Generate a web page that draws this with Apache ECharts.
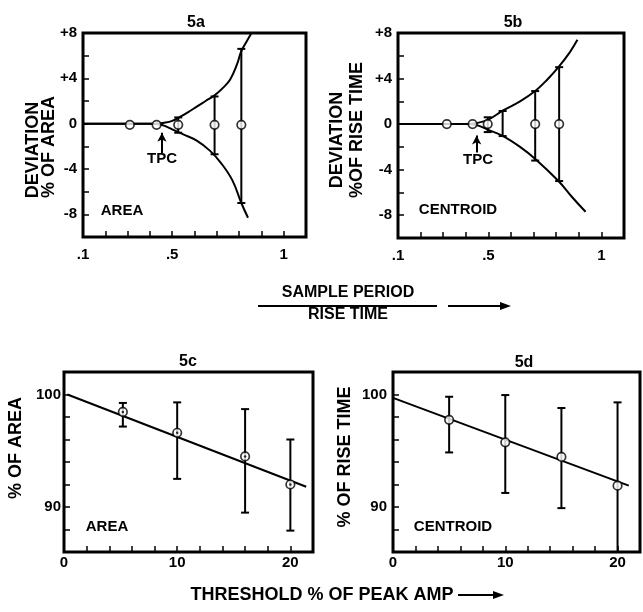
<!DOCTYPE html>
<html>
<head>
<meta charset="utf-8">
<script src="https://cdn.jsdelivr.net/npm/echarts@6/dist/echarts.min.js"></script>
<style>
  html, body { margin: 0; padding: 0; background: #fff; }
  #chart { width: 643px; height: 612px; }
</style>
</head>
<body>
<div id="chart"></div>
<script>
// ---- 5a : deviation of area vs sample period / rise time
var aPtsX = [0.31, 0.43, 0.527, 0.69, 0.81];
var aPtsY = [-0.1, -0.1, -0.1, -0.1, -0.1];
var aBarX = [0.527, 0.69, 0.81];
var aBarHi = [0.55, 2.4, 6.6];
var aBarLo = [-0.8, -2.7, -7.0];
var aUpper = [[0.1, 0], [0.42, 0], [0.47, 0.1], [0.5, 0.25], [0.535, 0.6], [0.57, 1.0], [0.61, 1.5],
              [0.65, 2.0], [0.69, 2.5], [0.73, 3.2], [0.76, 3.9], [0.79, 5.2], [0.81, 6.4], [0.835, 7.3], [0.856, 8]];
var aLower = [[0.1, 0], [0.42, 0], [0.46, -0.15], [0.5, -0.5], [0.55, -0.95], [0.61, -1.5], [0.67, -2.4],
              [0.72, -3.5], [0.77, -5.0], [0.81, -7.0], [0.84, -8.3]];

// ---- 5b : deviation of rise time (centroid)
var bPtsX = [0.316, 0.43, 0.497, 0.707, 0.813];
var bPtsY = [0, 0, 0, 0, 0];
var bBarX = [0.497, 0.563, 0.707, 0.813];
var bBarHi = [0.6, 1.15, 2.9, 5.0];
var bBarLo = [-0.7, -1.05, -3.2, -5.0];
var bUpper = [[0.1, 0], [0.4, 0], [0.45, 0.1], [0.5, 0.4], [0.565, 1.2], [0.64, 2.0], [0.71, 2.95],
              [0.76, 3.9], [0.81, 5.0], [0.86, 6.3], [0.894, 7.4]];
var bLower = [[0.1, 0], [0.4, 0], [0.45, -0.1], [0.5, -0.5], [0.565, -1.05], [0.64, -2.0], [0.71, -3.1],
              [0.81, -5.0], [0.87, -6.4], [0.93, -7.7]];

// ---- 5c : % of area vs threshold
var cX = [5.2, 10, 16, 20];
var cY = [98.45, 96.6, 94.5, 92.0];
var cHi = [99.25, 99.3, 98.7, 96.0];
var cLo = [97.15, 92.5, 89.5, 87.9];
var cFit = [[0.3, 100.0], [21.4, 91.8]];

// ---- 5d : % of rise time vs threshold
var dX = [5, 10, 15, 20];
var dY = [97.75, 95.75, 94.45, 91.9];
var dHi = [99.8, 99.95, 98.8, 99.3];
var dLo = [94.85, 91.25, 89.9, 86];
var dFit = [[0, 99.7], [21, 91.9]];

var FONT = 'Liberation Sans';
var BLACK = '#000';

function zip(a, b) { return a.map(function (v, i) { return [v, b[i]]; }); }
function zip3(a, b, c) { return a.map(function (v, i) { return [v, b[i], c[i]]; }); }

function errRender(params, api) {
  var x = api.value(0);
  var top = api.coord([x, api.value(1)]);
  var bot = api.coord([x, api.value(2)]);
  var w = 4;
  var st = { stroke: BLACK, lineWidth: 2 };
  return {
    type: 'group',
    children: [
      { type: 'line', shape: { x1: top[0], y1: top[1], x2: bot[0], y2: bot[1] }, style: st },
      { type: 'line', shape: { x1: top[0] - w, y1: top[1], x2: top[0] + w, y2: top[1] }, style: st },
      { type: 'line', shape: { x1: bot[0] - w, y1: bot[1], x2: bot[0] + w, y2: bot[1] }, style: st }
    ]
  };
}

function tickAxis(idx, min, max, interval, fmt, margin) {
  return {
    type: 'value', gridIndex: idx, min: min, max: max, interval: interval,
    splitLine: { show: false },
    axisLine: { show: false, onZero: false },
    axisTick: { inside: true, length: 6, lineStyle: { color: BLACK, width: 1.5 } },
    axisLabel: { color: BLACK, fontFamily: FONT, fontWeight: 'bold', fontSize: 15, margin: margin, formatter: fmt }
  };
}

function fmtSample(v) {
  var k = Math.round(v * 10);
  return k === 1 ? '.1' : k === 5 ? '.5' : k === 10 ? '1' : '';
}
function fmtDev(v) {
  var k = Math.round(v);
  if (k === 8 || k === 4) return '+' + k;
  if (k === 0 || k === -4 || k === -8) return String(k);
  return '';
}
function fmtThr(v) { return (v === 0 || v === 10 || v === 20) ? String(v) : ''; }
function fmtPct(v) { return (v === 90 || v === 100) ? String(v) : ''; }

function curve(idx, data) {
  return {
    type: 'line', xAxisIndex: idx, yAxisIndex: idx, data: data, smooth: 0.4,
    showSymbol: false, silent: true, lineStyle: { color: BLACK, width: 2 }, z: 2
  };
}
function bars(idx, data) {
  return { type: 'custom', xAxisIndex: idx, yAxisIndex: idx, data: data, renderItem: errRender,
           encode: { x: 0, y: [1, 2] }, silent: true, z: 3 };
}
function circles(idx, data, size) {
  return {
    type: 'scatter', xAxisIndex: idx, yAxisIndex: idx, data: data, symbol: 'circle', symbolSize: size || 8.5,
    itemStyle: { color: '#fff', borderColor: BLACK, borderWidth: 1.7 }, silent: true, z: 4
  };
}
function tpc(idx, x, y1, y2) {
  return {
    type: 'line', xAxisIndex: idx, yAxisIndex: idx, data: [], silent: true,
    markLine: {
      silent: true, symbol: ['none', 'arrow'], symbolSize: [7, 9],
      lineStyle: { color: BLACK, width: 2, type: 'solid' }, label: { show: false },
      data: [[{ coord: [x, y1] }, { coord: [x, y2] }]]
    }
  };
}

function label(x, y, text, size, rot) {
  return {
    type: 'text', x: x, y: y, rotation: rot || 0,
    style: { text: text, fill: BLACK, font: 'bold ' + size + 'px "' + FONT + '"', align: 'center', verticalAlign: 'middle' }
  };
}

var chart = echarts.init(document.getElementById('chart'), null, { renderer: 'canvas' });

var gridStyle = { show: true, borderColor: BLACK, borderWidth: 3, backgroundColor: 'transparent' };

var option = {
  backgroundColor: '#fff',
  animation: false,
  grid: [
    Object.assign({ left: 83, top: 33, width: 223, height: 204 }, gridStyle),
    Object.assign({ left: 398, top: 33, width: 226, height: 205 }, gridStyle),
    Object.assign({ left: 64, top: 372, width: 249, height: 180 }, gridStyle),
    Object.assign({ left: 393, top: 372, width: 248, height: 180 }, gridStyle)
  ],
  xAxis: [
    tickAxis(0, 0.1, 1.1, 0.1, fmtSample, 10),
    tickAxis(1, 0.1, 1.1, 0.1, fmtSample, 10),
    tickAxis(2, 0, 22, 2, fmtThr, 3),
    tickAxis(3, 0, 22, 2, fmtThr, 3)
  ],
  yAxis: [
    tickAxis(0, -10, 8, 2, fmtDev, 6),
    tickAxis(1, -10, 8, 2, fmtDev, 6),
    tickAxis(2, 86, 102, 2, fmtPct, 3),
    tickAxis(3, 86, 102, 2, fmtPct, 6)
  ],
  series: [
    curve(0, aUpper), curve(0, aLower), bars(0, zip3(aBarX, aBarHi, aBarLo)), circles(0, zip(aPtsX, aPtsY)),
    tpc(0, 0.454, -2.6, -0.8),
    curve(1, bUpper), curve(1, bLower), bars(1, zip3(bBarX, bBarHi, bBarLo)), circles(1, zip(bPtsX, bPtsY)),
    tpc(1, 0.448, -2.5, -1.0),
    curve(2, cFit), bars(2, zip3(cX, cHi, cLo)), circles(2, zip(cX, cY)),
    {
      type: 'scatter', xAxisIndex: 2, yAxisIndex: 2, data: zip(cX, cY), symbol: 'circle', symbolSize: 2.5,
      itemStyle: { color: BLACK }, silent: true, z: 5
    },
    curve(3, dFit), bars(3, zip3(dX, dHi, dLo)), circles(3, zip(dX, dY))
  ],
  graphic: [
    label(196, 23, '5a', 16),
    label(513, 23, '5b', 16),
    label(188, 362, '5c', 16),
    label(524, 363, '5d', 16),
    label(33, 150, 'DEVIATION', 18, Math.PI / 2),
    label(49, 147, '% OF AREA', 18, Math.PI / 2),
    label(337, 140, 'DEVIATION', 18, Math.PI / 2),
    label(357, 130, '%OF RISE TIME', 18, Math.PI / 2),
    label(16, 448, '% OF AREA', 18, Math.PI / 2),
    label(345, 457, '% OF RISE TIME', 18, Math.PI / 2),
    label(122, 211, 'AREA', 15),
    label(458, 210, 'CENTROID', 15),
    label(107, 527, 'AREA', 15),
    label(453, 527, 'CENTROID', 15),
    label(162, 159, 'TPC', 15),
    label(478, 160, 'TPC', 15),
    label(348, 293, 'SAMPLE PERIOD', 16),
    label(348, 315, 'RISE TIME', 16),
    { type: 'line', shape: { x1: 258, y1: 306, x2: 437, y2: 306 }, style: { stroke: BLACK, lineWidth: 2 } },
    { type: 'line', shape: { x1: 448, y1: 306, x2: 502, y2: 306 }, style: { stroke: BLACK, lineWidth: 2 } },
    { type: 'polygon', shape: { points: [[500, 302], [511, 306], [500, 310]] }, style: { fill: BLACK } },
    label(322, 595, 'THRESHOLD % OF PEAK AMP', 18),
    { type: 'line', shape: { x1: 458, y1: 595, x2: 495, y2: 595 }, style: { stroke: BLACK, lineWidth: 2 } },
    { type: 'polygon', shape: { points: [[493, 591], [504, 595], [493, 599]] }, style: { fill: BLACK } }
  ]
};

chart.setOption(option);
window.addEventListener('resize', chart.resize);
</script>
</body>
</html>
